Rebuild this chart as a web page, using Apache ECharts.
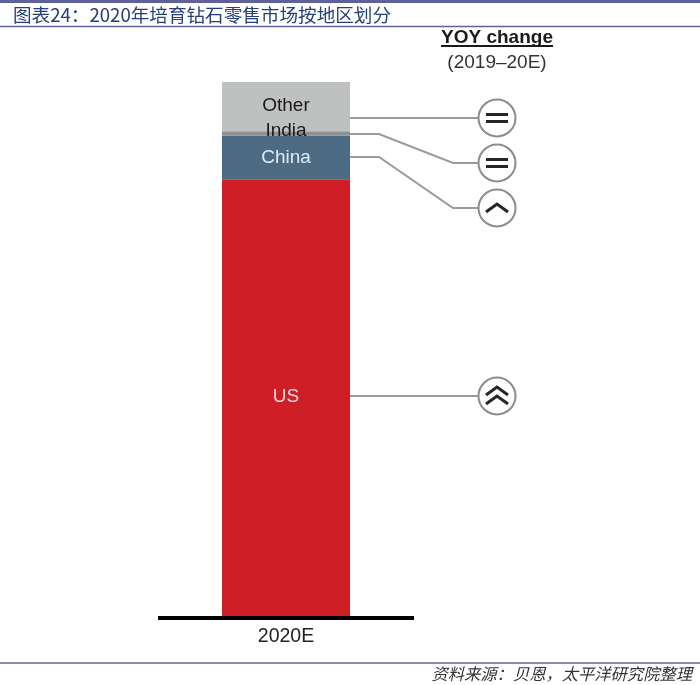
<!DOCTYPE html>
<html><head><meta charset="utf-8">
<style>html,body{margin:0;padding:0;background:#fff}#c{width:700px;height:685px}</style>
<script src="https://cdn.jsdelivr.net/npm/echarts@6/dist/echarts.min.js"></script></head>
<body><div id="c"></div>
<script>
const categories = ['2020E'];
const segmentNames = ['US', 'China', 'India', 'Other'];
const usValues = [81.8];
const chinaValues = [8.2];
const indiaValues = [0.8];
const otherValues = [9.2];
const yoyDirections = ['flat', 'flat', 'up', 'doubleUp']; // Other, India, China, US
const titleText = '图表24：2020年培育钻石零售市场按地区划分';
const sourceText = '资料来源：贝恩，太平洋研究院整理';

const chart = echarts.init(document.getElementById('c'), null, {renderer: 'canvas'});
const sans = '"Liberation Sans", Arial, sans-serif';
const cjk = '"Noto Sans CJK SC", sans-serif';
function seg(name, data, color, labelColor, offsetY) {
  return {
    name, type: 'bar', stack: 'total', data, barWidth: 128, silent: true,
    itemStyle: {color},
    label: {show: true, position: 'inside', formatter: '{a}', color: labelColor,
      fontFamily: sans, fontSize: 19, offset: [0, offsetY]}
  };
}
const line = (x1, y1, x2, y2, color, w) => ({type: 'line', shape: {x1, y1, x2, y2}, style: {stroke: color, lineWidth: w}, silent: true});
const poly = (points, color, w) => ({type: 'polyline', shape: {points}, style: {stroke: color, lineWidth: w, fill: null}, silent: true});
const cx = 497, cr = 18.5;
function icon(kind, cy) {
  const out = [{type: 'circle', shape: {cx, cy, r: cr}, style: {fill: '#fff', stroke: '#8c8c8c', lineWidth: 2}, silent: true}];
  const dark = '#262626';
  if (kind === 'flat') {
    out.push(line(cx - 11, cy - 3.5, cx + 11, cy - 3.5, dark, 3), line(cx - 11, cy + 3.5, cx + 11, cy + 3.5, dark, 3));
  } else if (kind === 'up') {
    out.push(poly([[cx - 11, cy + 4], [cx, cy - 4], [cx + 11, cy + 4]], dark, 3));
  } else {
    out.push(poly([[cx - 11, cy - 1], [cx, cy - 9], [cx + 11, cy - 1]], dark, 3),
             poly([[cx - 11, cy + 8], [cx, cy], [cx + 11, cy + 8]], dark, 3));
  }
  return out;
}
const gray = '#9a9a9a';
const graphics = [
  {type: 'rect', shape: {x: 0, y: 0, width: 700, height: 3}, style: {fill: '#5f6299'}, silent: true},
  line(0, 26.5, 700, 26.5, '#5f6299', 1.5),
  line(0, 663, 700, 663, '#5f6299', 1.5),
  {type: 'text', style: {x: 497, y: 37.5, text: 'YOY change', fill: '#1a1a1a', font: 'bold 19px ' + sans, textAlign: 'center', textVerticalAlign: 'middle'}, silent: true},
  line(441, 46, 553, 46, '#1a1a1a', 1.8),
  {type: 'text', style: {x: 497, y: 63, text: '(2019–20E)', fill: '#333', font: '19px ' + sans, textAlign: 'center', textVerticalAlign: 'middle'}, silent: true},
  {type: 'text', style: {x: 692, y: 674, text: sourceText, fill: '#333', font: 'italic 16.3px ' + cjk, textAlign: 'right', textVerticalAlign: 'middle'}, silent: true},
  line(350, 118, 480, 118, gray, 2),
  poly([[350, 134], [379, 134], [453, 163], [480, 163]], gray, 2),
  poly([[350, 157], [379, 157], [453, 208], [480, 208]], gray, 2),
  line(350, 396, 480, 396, gray, 2),
  ...icon(yoyDirections[0], 118),
  ...icon(yoyDirections[1], 163),
  ...icon(yoyDirections[2], 208),
  ...icon(yoyDirections[3], 396)
];
chart.setOption({
  animation: false,
  backgroundColor: '#fff',
  title: {text: titleText, left: 8, top: 1, padding: 5, textStyle: {color: '#27407a', fontFamily: cjk, fontSize: 18.6, fontWeight: 'normal'}},
  grid: {left: 158, top: 82, width: 256, height: 534, containLabel: false},
  xAxis: {type: 'category', data: categories, boundaryGap: true, offset: 1.5,
    axisLine: {show: true, onZero: false, lineStyle: {color: '#000', width: 4, cap: 'butt'}}, axisTick: {show: false},
    axisLabel: {color: '#222', fontFamily: sans, fontSize: 19.5, margin: 9}},
  yAxis: {type: 'value', min: 0, max: 100, show: false, splitLine: {show: false}},
  series: [
    seg(segmentNames[0], usValues, '#cf1f26', '#f6dcdc', -1),
    seg(segmentNames[1], chinaValues, '#4d6b82', '#e0ebf3', 0),
    seg(segmentNames[2], indiaValues, '#8f9190', '#1a1a1a', -2),
    seg(segmentNames[3], otherValues, '#bfc1c0', '#1a1a1a', -1)
  ],
  graphic: graphics
});
</script></body></html>
